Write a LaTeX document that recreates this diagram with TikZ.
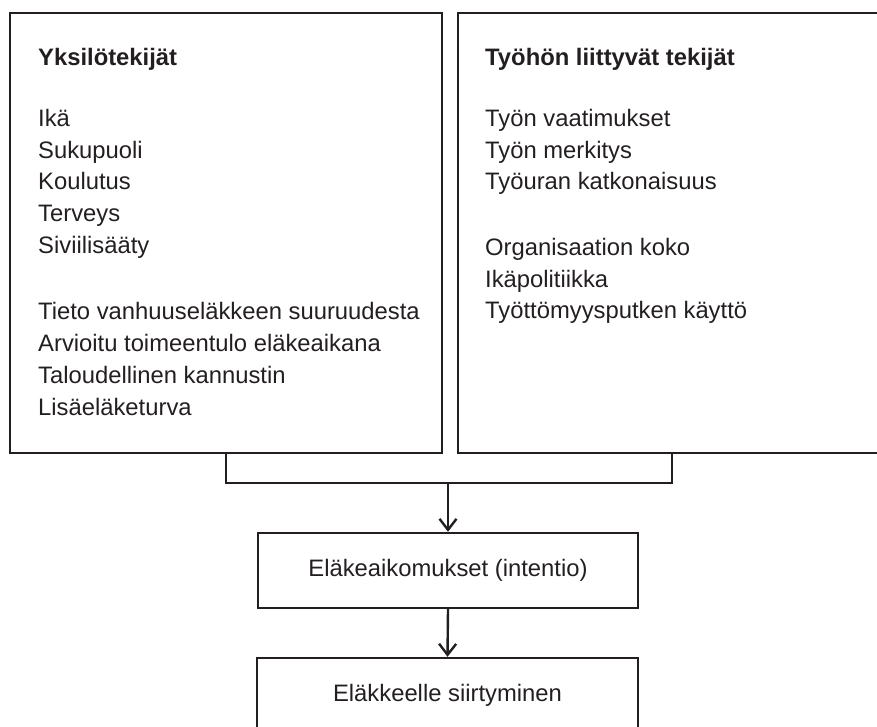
\documentclass[tikz,border=0pt]{standalone}
\usepackage{fontspec}
\setmainfont{Liberation Sans}
\usetikzlibrary{arrows.meta}
\definecolor{ink}{HTML}{231F20}
\begin{document}
\begin{tikzpicture}[x=1pt,y=-1pt,
  frame/.style={draw=ink, line width=2.4pt, rectangle, inner sep=0pt},
  txt/.style={anchor=base west, inner sep=0pt, text=ink, font=\fontsize{23.8}{28}\selectfont},
  ttl/.style={txt, font=\fontsize{23.8}{28}\selectfont\bfseries},
  ctxt/.style={text=ink, font=\fontsize{23.8}{28}\selectfont},
  conn/.style={draw=ink, line width=2.4pt},
  arr/.style={conn, -{Straight Barb[length=11pt,width=17pt,line width=2.4pt]}}]
\useasboundingbox (0,0) rectangle (877,727);
% boxes
\node[frame, anchor=north west, minimum width=432pt, minimum height=440pt] (L) at (9,12) {};
\node[frame, anchor=north west, minimum width=428pt, minimum height=440pt] (R) at (457,12) {};
\node[frame, minimum width=380pt, minimum height=75pt, ctxt] (M) at (448,570.5) {Eläkeaikomukset (intentio)};
\node[frame, minimum width=381pt, minimum height=75pt, ctxt] (B) at (447.5,695.5) {Eläkkeelle siirtyminen};
% left texts
\node[ttl] (lt) at (38,66) {Yksilötekijät};
\node[txt] (l1) at (38,127) {Ikä};
\node[txt] (l2) at (38,159) {Sukupuoli};
\node[txt] (l3) at (38,190) {Koulutus};
\node[txt] (l4) at (38,222) {Terveys};
\node[txt] (l5) at (38,253) {Siviilisääty};
\node[txt] (l6) at (38,319) {Tieto vanhuuseläkkeen suuruudesta};
\node[txt] (l7) at (38,351) {Arvioitu toimeentulo eläkeaikana};
\node[txt] (l8) at (38,383) {Taloudellinen kannustin};
\node[txt] (l9) at (38,415) {Lisäeläketurva};
% right texts
\node[ttl] (rt) at (485,66) {Työhön liittyvät tekijät};
\node[txt] (r1) at (485,127) {Työn vaatimukset};
\node[txt] (r2) at (485,159) {Työn merkitys};
\node[txt] (r3) at (485,190) {Työuran katkonaisuus};
\node[txt] (r4) at (485,255) {Organisaation koko};
\node[txt] (r5) at (485,287) {Ikäpolitiikka};
\node[txt] (r6) at (485,318) {Työttömyysputken käyttö};
% connectors
\coordinate (J) at (448,483);
\draw[conn] (L.south) |- (J) -| (R.south);
\draw[arr] (J) -- (M.north);
\draw[arr] (M.south) -- (B.north);
\end{tikzpicture}
\end{document}
